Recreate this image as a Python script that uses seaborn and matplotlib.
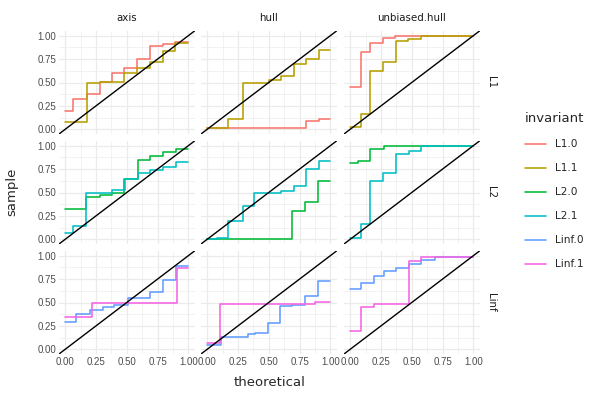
import numpy as np
import pandas as pd
import matplotlib
matplotlib.use("Agg")
import matplotlib.pyplot as plt
import seaborn as sns
from matplotlib.lines import Line2D
from matplotlib.ticker import MultipleLocator

# ---------------- data ----------------
methods = ["axis", "hull", "unbiased.hull"]
norms = ["L1", "L2", "Linf"]
invariants = ["L1.0", "L1.1", "L2.0", "L2.1", "Linf.0", "Linf.1"]
colors = ["#F8766D", "#B79F00", "#00BA38", "#00BFC4", "#619CFF", "#F564E3"]
tick_labels = ["0.00", "0.25", "0.50", "0.75", "1.00"]

# axis
axis_L1_0_x = [0, 0.062, 0.176, 0.279, 0.382, 0.474, 0.583, 0.691, 0.794, 0.894, 1.0]
axis_L1_0_y = [0.20, 0.32, 0.38, 0.51, 0.60, 0.65, 0.75, 0.89, 0.91, 0.93, 0.93]
axis_L1_1_x = [0, 0.176, 0.279, 0.474, 0.583, 0.691, 0.794, 0.894, 1.0]
axis_L1_1_y = [0.075, 0.50, 0.51, 0.60, 0.66, 0.72, 0.84, 0.92, 0.92]
axis_L2_0_x = [0, 0.17, 0.279, 0.382, 0.474, 0.588, 0.691, 0.794, 0.90, 1.0]
axis_L2_0_y = [0.32, 0.45, 0.47, 0.50, 0.64, 0.85, 0.89, 0.935, 0.965, 0.965]
axis_L2_1_x = [0, 0.062, 0.17, 0.382, 0.488, 0.588, 0.691, 0.794, 0.902, 1.0]
axis_L2_1_y = [0.07, 0.145, 0.50, 0.525, 0.64, 0.71, 0.745, 0.77, 0.83, 0.83]
axis_Linf_0_x = [0, 0.089, 0.20, 0.306, 0.393, 0.507, 0.691, 0.794, 0.902, 1.0]
axis_Linf_0_y = [0.29, 0.38, 0.425, 0.45, 0.47, 0.545, 0.61, 0.735, 0.895, 0.895]
axis_Linf_1_x = [0, 0.214, 0.908, 1.0]
axis_Linf_1_y = [0.35, 0.49, 0.87, 0.87]

# hull
hull_L1_0_x = [0, 0.80, 0.905, 1.0]
hull_L1_0_y = [0.01, 0.09, 0.105, 0.105]
hull_L1_1_x = [0, 0.17, 0.292, 0.503, 0.60, 0.708, 0.80, 0.905, 1.0]
hull_L1_1_y = [0.01, 0.107, 0.50, 0.527, 0.573, 0.70, 0.747, 0.85, 0.85]
hull_L2_0_x = [0, 0.527, 0.689, 0.792, 0.897, 1.0]
hull_L2_0_y = [0.0, 0.007, 0.30, 0.395, 0.623, 0.623]
hull_L2_1_x = [0, 0.076, 0.17, 0.292, 0.384, 0.60, 0.708, 0.80, 0.905, 1.0]
hull_L2_1_y = [0.0, 0.018, 0.196, 0.36, 0.495, 0.52, 0.573, 0.747, 0.84, 0.84]
hull_Linf_0_x = [0, 0.116, 0.33, 0.392, 0.492, 0.589, 0.689, 0.792, 0.897, 1.0]
hull_Linf_0_y = [0.046, 0.135, 0.167, 0.178, 0.278, 0.463, 0.473, 0.569, 0.733, 0.733]
hull_Linf_1_x = [0, 0.103, 0.878, 1.0]
hull_Linf_1_y = [0.071, 0.487, 0.509, 0.509]

# unbiased.hull
ub_L1_0_x = [0, 0.092, 0.165, 0.265, 0.368, 1.0]
ub_L1_0_y = [0.456, 0.822, 0.918, 0.979, 1.0, 1.0]
ub_L1_1_x = [0, 0.092, 0.165, 0.265, 0.373, 0.47, 0.578, 1.0]
ub_L1_1_y = [0.02, 0.164, 0.626, 0.715, 0.943, 0.961, 1.0, 1.0]
ub_L2_0_x = [0, 0.065, 0.165, 0.273, 1.0]
ub_L2_0_y = [0.82, 0.835, 0.965, 1.0, 1.0]
ub_L2_1_x = [0, 0.092, 0.165, 0.265, 0.373, 0.476, 0.578, 1.0]
ub_L2_1_y = [0.018, 0.16, 0.623, 0.712, 0.915, 0.943, 1.0, 1.0]
ub_Linf_0_x = [0, 0.092, 0.197, 0.273, 0.376, 0.476, 0.578, 0.686, 1.0]
ub_Linf_0_y = [0.648, 0.705, 0.783, 0.836, 0.865, 0.911, 0.95, 0.99, 0.99]
ub_Linf_1_x = [0, 0.092, 0.197, 0.476, 0.578, 1.0]
ub_Linf_1_y = [0.199, 0.452, 0.488, 0.943, 0.986, 0.986]

series = [
    ("axis", "L1.0", axis_L1_0_x, axis_L1_0_y), ("axis", "L1.1", axis_L1_1_x, axis_L1_1_y),
    ("axis", "L2.0", axis_L2_0_x, axis_L2_0_y), ("axis", "L2.1", axis_L2_1_x, axis_L2_1_y),
    ("axis", "Linf.0", axis_Linf_0_x, axis_Linf_0_y), ("axis", "Linf.1", axis_Linf_1_x, axis_Linf_1_y),
    ("hull", "L1.0", hull_L1_0_x, hull_L1_0_y), ("hull", "L1.1", hull_L1_1_x, hull_L1_1_y),
    ("hull", "L2.0", hull_L2_0_x, hull_L2_0_y), ("hull", "L2.1", hull_L2_1_x, hull_L2_1_y),
    ("hull", "Linf.0", hull_Linf_0_x, hull_Linf_0_y), ("hull", "Linf.1", hull_Linf_1_x, hull_Linf_1_y),
    ("unbiased.hull", "L1.0", ub_L1_0_x, ub_L1_0_y), ("unbiased.hull", "L1.1", ub_L1_1_x, ub_L1_1_y),
    ("unbiased.hull", "L2.0", ub_L2_0_x, ub_L2_0_y), ("unbiased.hull", "L2.1", ub_L2_1_x, ub_L2_1_y),
    ("unbiased.hull", "Linf.0", ub_Linf_0_x, ub_Linf_0_y), ("unbiased.hull", "Linf.1", ub_Linf_1_x, ub_Linf_1_y),
]

rows = []
for m, inv, xs, ys in series:
    for xv, yv in zip(xs, ys):
        rows.append({"method": m, "norm": inv.split(".")[0], "invariant": inv,
                     "theoretical": xv, "sample": yv})
df = pd.DataFrame(rows)

# ---------------- figure ----------------
sns.set_theme(style="white")
plt.rcParams["font.family"] = ["DejaVu Sans"]

W, H = 596, 399
fig = plt.figure(figsize=(W / 100, H / 100), dpi=100)
palette = dict(zip(invariants, colors))

col_left = [59, 201, 344]
pw = 135.5
row_top = [31, 141, 251]
ph = 103

tick_fs = 7.0
strip_fs = 7.4
grid_c = "#EBEBEB"

for r, nm in enumerate(norms):
    for c, me in enumerate(methods):
        ax = fig.add_axes([col_left[c] / W, (H - row_top[r] - ph) / H, pw / W, ph / H])
        sub = df[(df.method == me) & (df.norm == nm)]
        ax.set_xlim(-0.05, 1.05)
        ax.set_ylim(-0.05, 1.05)
        ax.xaxis.set_major_locator(MultipleLocator(0.25))
        ax.yaxis.set_major_locator(MultipleLocator(0.25))
        ax.xaxis.set_minor_locator(MultipleLocator(0.125))
        ax.yaxis.set_minor_locator(MultipleLocator(0.125))
        ax.grid(True, which="major", color=grid_c, lw=0.9)
        ax.grid(True, which="minor", color=grid_c, lw=0.45)
        ax.set_axisbelow(True)
        for s in ax.spines.values():
            s.set_visible(False)
        ax.axline((0, 0), slope=1, color="black", lw=1.0, zorder=3)
        sns.lineplot(data=sub, x="theoretical", y="sample", hue="invariant",
                     palette=palette, estimator=None, drawstyle="steps-post",
                     lw=1.15, legend=False, ax=ax, zorder=2, sort=True)
        ax.set_xlabel("")
        ax.set_ylabel("")
        ax.tick_params(which="both", length=0, pad=2, labelcolor="#4D4D4D")
        ax.set_xticks([0, 0.25, 0.5, 0.75, 1.0])
        ax.set_yticks([0, 0.25, 0.5, 0.75, 1.0])
        if c == 0:
            ax.set_yticklabels(tick_labels, fontsize=tick_fs, family="Liberation Sans")
        else:
            ax.set_yticklabels([])
        if r == 2:
            ax.set_xticklabels(tick_labels, fontsize=tick_fs, family="Liberation Sans")
        else:
            ax.set_xticklabels([])

# strips
for c, me in enumerate(methods):
    fig.text((col_left[c] + pw / 2) / W, 1 - 18 / H, me, ha="center", va="center",
             fontsize=strip_fs, color="#1A1A1A")
for r, nm in enumerate(norms):
    fig.text(491 / W, 1 - (row_top[r] + ph / 2) / H, nm, ha="center", va="center",
             rotation=-90, fontsize=strip_fs, color="#1A1A1A")

fig.text((col_left[0] + (col_left[2] + pw)) / 2 / W, 1 - 382 / H, "theoretical",
         ha="center", va="center", fontsize=9.5)
fig.text(12 / W, 1 - 192 / H, "sample", ha="center", va="center", rotation=90, fontsize=9.5)

handles = [Line2D([0], [0], color=col, lw=1.15) for col in colors]
leg = fig.legend(handles, invariants, title="invariant", loc="upper left",
                 bbox_to_anchor=(521 / W, 1 - 108 / H), frameon=False,
                 fontsize=7.6, title_fontsize=9.5, handlelength=2.0,
                 handletextpad=0.8, labelspacing=1.33, borderaxespad=0)
leg._legend_box.align = "left"

fig.savefig("out.png", dpi=100)
